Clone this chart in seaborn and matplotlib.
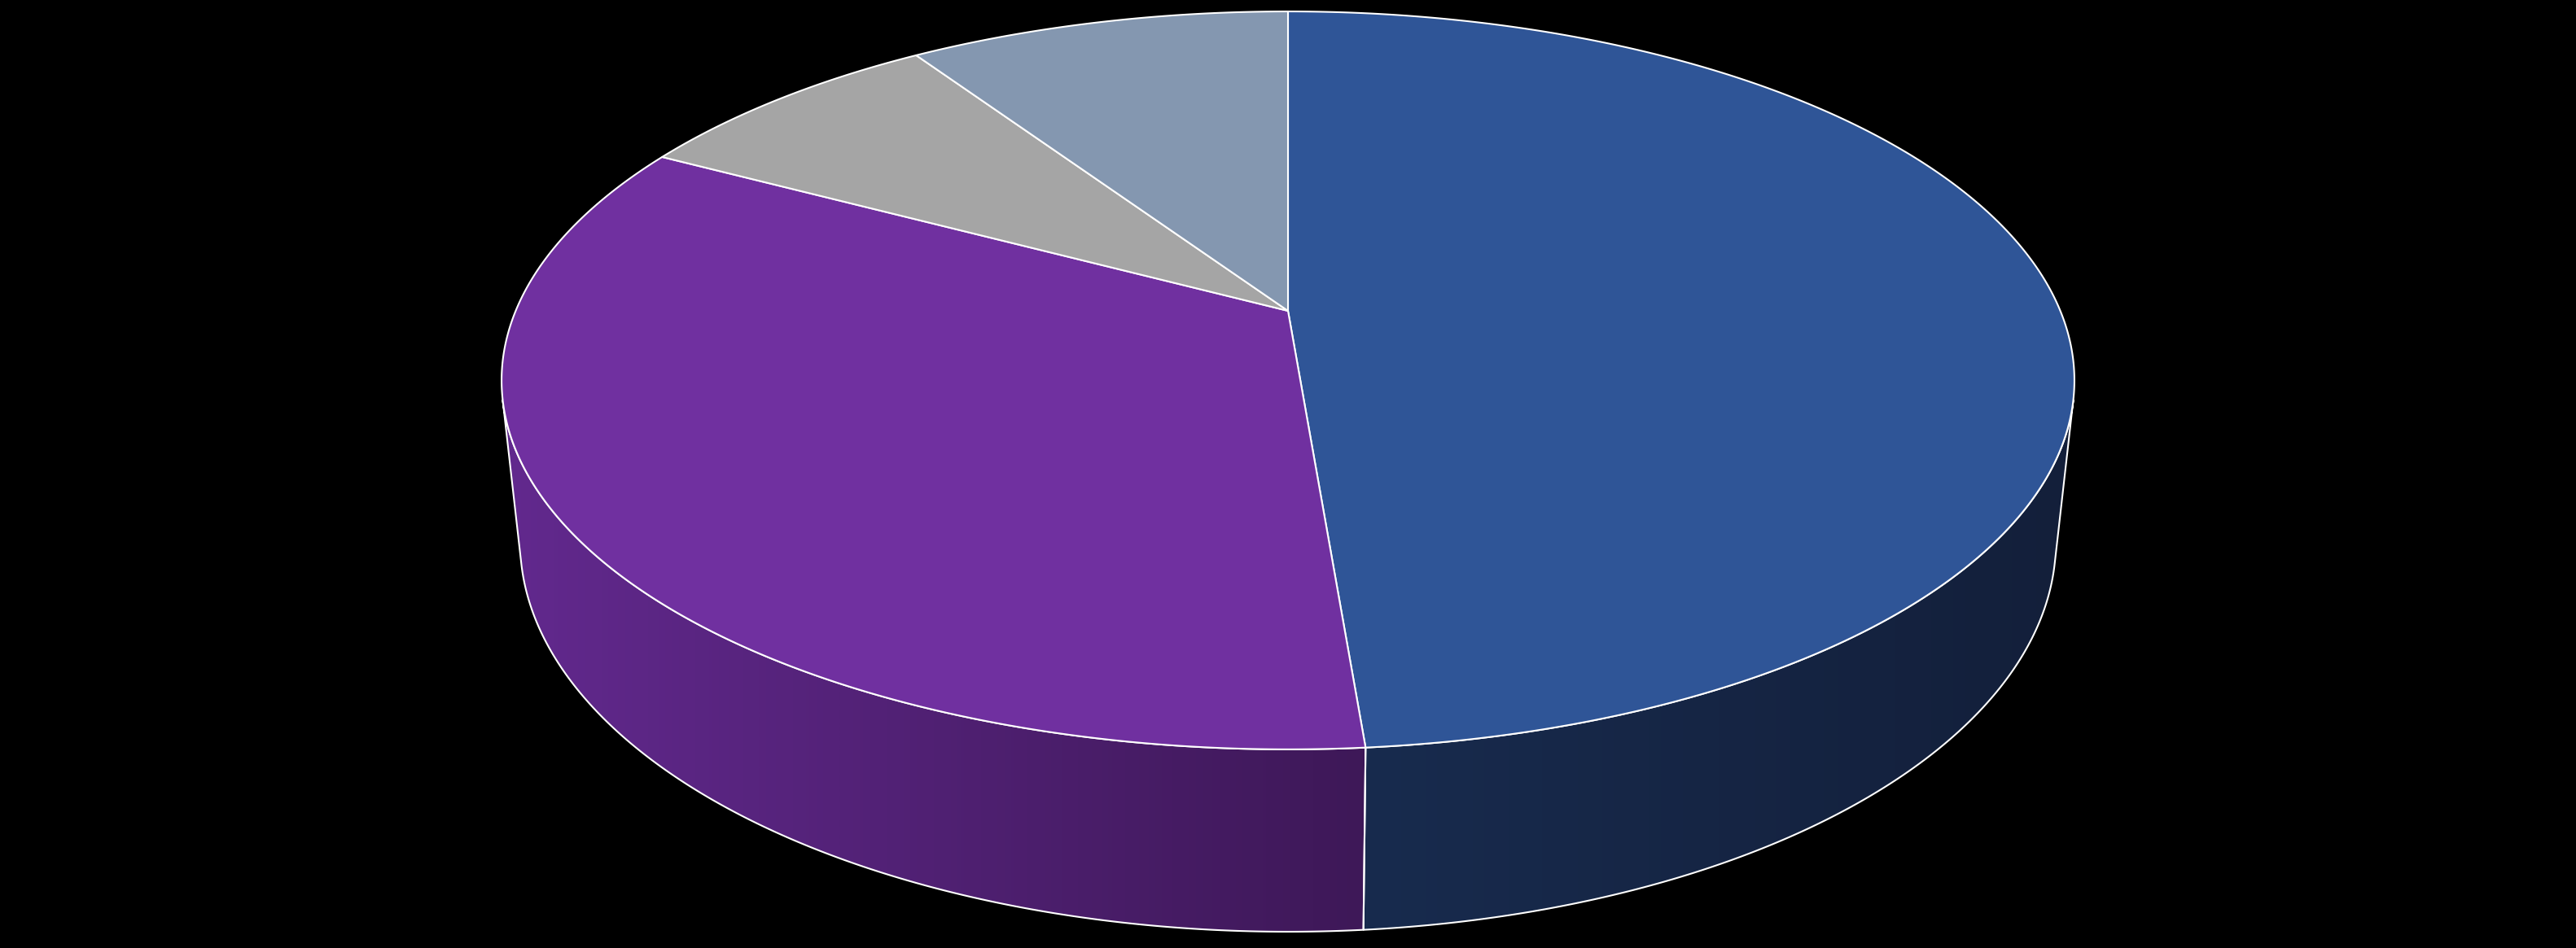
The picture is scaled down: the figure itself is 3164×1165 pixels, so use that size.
import numpy as np
import matplotlib
matplotlib.use("Agg")
import matplotlib.pyplot as plt
from matplotlib.patches import Polygon
from matplotlib.colors import LinearSegmentedColormap
import seaborn as sns

# ---- data (slices clockwise from 12 o'clock) ----
categories = ["Serie 1", "Serie 2", "Serie 3", "Serie 4"]
values = [48.7, 34.1, 7.8, 9.4]
top_colors = ["#2F5597", "#7030A0", "#A5A5A5", "#8497B0"]
side_left_colors = ["#182B4E", "#62298E", "#6E6E6E", "#56657A"]
side_right_colors = ["#131F3A", "#3E1858", "#555555", "#44505F"]

sns.set_theme(style="dark", rc={"figure.facecolor": "black", "axes.facecolor": "black"})
palette = sns.color_palette(top_colors)

W, H = 3164, 1165
fig = plt.figure(figsize=(W / 100, H / 100), dpi=100)
ax = fig.add_axes([0, 0, 1, 1])
ax.set_facecolor("black")

# ---- perspective projection of a 3D cylinder ----
X0, Y0 = 1582.0, 382.0
S = 4466.0
D = 4.708
sphi, cphi = 0.461, 0.8874
depth = 0.2371


def proj(theta_deg, z):
    t = np.radians(theta_deg)
    u = np.sin(t)
    v = -np.cos(t)
    d = D - v * cphi - z * sphi
    x = X0 + S * u / d
    y = Y0 + S * (v * sphi - z * cphi) / d
    return x, y


def arc(a, b, z, n=None):
    if n is None:
        n = max(int(abs(b - a) * 4), 2)
    th = np.linspace(a, b, n)
    x, y = proj(th, z)
    return np.column_stack([x, y])


total = float(np.sum(values))
angles = np.concatenate([[0.0], np.cumsum(values) / total * 360.0])

# visible part of the side wall
vlim = 1.0 / (D * cphi)
vis_a = 180.0 - np.degrees(np.arccos(vlim))
vis_b = 180.0 + np.degrees(np.arccos(vlim))

LW = 1.5
edge = "white"

# ---- side walls ----
for i in range(len(values)):
    a = max(angles[i], vis_a)
    b = min(angles[i + 1], vis_b)
    if b <= a:
        continue
    top = arc(a, b, 0.0)
    bot = arc(b, a, -depth)
    pts = np.vstack([top, bot])
    poly = Polygon(pts, closed=True, facecolor="none", edgecolor="none")
    ax.add_patch(poly)
    xmin, xmax = pts[:, 0].min(), pts[:, 0].max()
    ymin, ymax = pts[:, 1].min(), pts[:, 1].max()
    cmap = LinearSegmentedColormap.from_list(
        f"side{i}", [side_left_colors[i], side_right_colors[i]])
    grad = np.linspace(0, 1, 256).reshape(1, -1)
    im = ax.imshow(grad, cmap=cmap, extent=[xmin, xmax, ymax, ymin],
                   aspect="auto", interpolation="bicubic", zorder=1)
    im.set_clip_path(poly)
    ax.add_patch(Polygon(pts, closed=True, facecolor="none", edgecolor=edge,
                         linewidth=LW, joinstyle="round", zorder=2))

# ---- top face slices ----
cx, cy = proj(0.0, 0.0)[0], Y0
for i in range(len(values)):
    pts = arc(angles[i], angles[i + 1], 0.0)
    pts = np.vstack([[X0, Y0], pts])
    ax.add_patch(Polygon(pts, closed=True, facecolor=palette[i], edgecolor=edge,
                         linewidth=LW, joinstyle="round", zorder=3))

ax.set_xlim(0, W)
ax.set_ylim(H, 0)
ax.axis("off")
fig.savefig("out.png", dpi=100, facecolor="black")
